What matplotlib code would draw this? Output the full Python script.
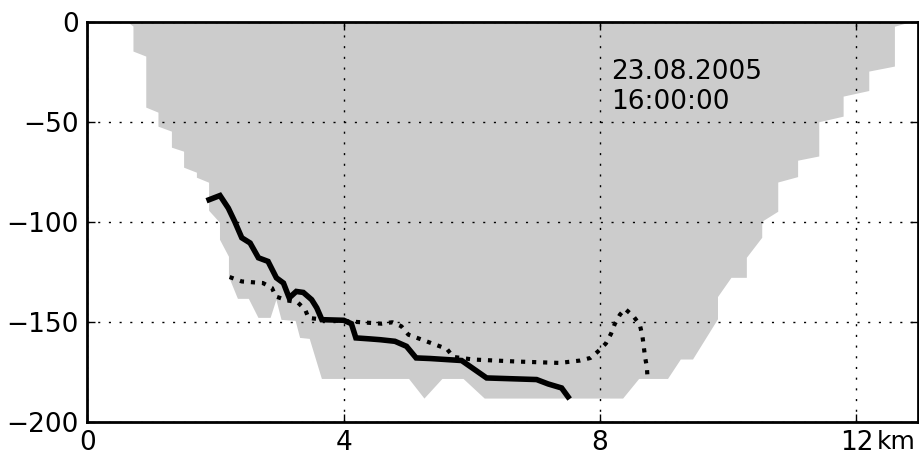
import numpy as np
import matplotlib
matplotlib.use('Agg')
import matplotlib.pyplot as plt

# bottom profile of the section (km, m), traced left bank -> bottom -> right bank
bank_km = [0.62, 0.72, 0.72, 0.92, 0.92, 1.11, 1.11, 1.32, 1.32, 1.51, 1.51,
           1.71, 1.71, 1.90, 1.90, 2.07, 2.07, 2.21, 2.21, 2.35, 2.52, 2.67,
           2.86, 2.95, 3.03, 3.25, 3.32, 3.47, 3.66, 5.02, 5.26, 5.54, 5.87,
           6.20, 8.36, 8.61, 9.06, 9.26, 9.45, 9.84, 9.84, 10.05, 10.29,
           10.29, 10.53, 10.53, 10.78, 10.78, 11.09, 11.09, 11.42, 11.42,
           11.80, 11.80, 12.20, 12.20, 12.60, 12.60, 12.89]
bank_depth = [0, -2.5, -15, -17.5, -43, -45.5, -52.5, -55, -63, -65, -73,
              -75.5, -78, -80.5, -94.5, -100.5, -109, -117.5, -127.5, -138.5,
              -138.5, -148, -148, -139, -149, -149.5, -158, -158.5, -178.5,
              -178.5, -188.3, -178.5, -178.5, -188.3, -188.3, -178.5, -178.5,
              -168.8, -168.8, -148.7, -137.6, -128, -128, -118, -108, -100,
              -95, -80.4, -77.7, -69.5, -67.4, -50.3, -47.5, -37.5, -34.7,
              -25, -22.5, -2.6, 0]

# solid line
solid_km = [1.90, 2.07, 2.20, 2.30, 2.41, 2.54, 2.67, 2.82, 2.95, 3.06, 3.15,
            3.26, 3.37, 3.50, 3.58, 3.66, 4.00, 4.12, 4.19, 4.41, 4.57, 4.80,
            4.98, 5.13, 5.35, 5.84, 6.23, 7.01, 7.19, 7.40, 7.50]
solid_depth = [-89, -86.9, -93.2, -99.9, -108, -110.6, -118, -119.8, -128,
               -130.6, -138, -134.8, -135.3, -138.9, -143, -148.9, -149.2,
               -150.9, -158, -158.5, -158.9, -159.7, -162.2, -168, -168.3,
               -169.3, -178, -178.8, -181, -183, -187.4]

# dotted line
dotted_km = [2.22, 2.41, 2.74, 2.88, 2.94, 3.11, 3.28, 3.40, 3.45, 3.68, 4.28,
             4.59, 4.76, 4.90, 5.01, 5.29, 5.61, 5.71, 6.02, 6.70, 7.37, 7.69,
             7.85, 7.97, 8.09, 8.17, 8.23, 8.31, 8.39, 8.52, 8.62, 8.66, 8.68,
             8.70, 8.73, 8.74]
dotted_depth = [-127.6, -129.8, -130.6, -133, -137.3, -139.2, -140.2, -143.9,
                -148, -148.9, -150.2, -150.9, -150.2, -152.2, -156.4, -159.7,
                -163.5, -167.5, -168.8, -169.8, -170.5, -169.3, -168, -164.7,
                -160.8, -156, -151, -146.4, -143.5, -147.2, -151.4, -156.9,
                -161.8, -167.2, -172.5, -177.7]

xticks = [0, 4, 8, 12]
xticklabels = ['0', '4', '8', '12']
yticks = [0, -50, -100, -150, -200]

fig = plt.figure(figsize=(9.2, 4.58), dpi=100)
ax = fig.add_axes([0.0949, 0.0786, 0.9029, 0.8744])

ax.fill(bank_km, bank_depth, color='#cccccc', lw=0, zorder=1)
ax.plot(solid_km, solid_depth, color='k', lw=4, zorder=4,
        solid_joinstyle='miter')
ax.plot(dotted_km, dotted_depth, color='k', lw=3, ls=':', zorder=4)

ax.text(8.18, -18.5, '23.08.2005\n16:00:00', fontsize=19, va='top', ha='left',
        zorder=5)

ax.set_xlim(0, 12.96)
ax.set_ylim(-200, 0)
ax.set_xticks(xticks)
ax.set_xticklabels(xticklabels)
ax.set_yticks(yticks)
# unit label next to the last x tick
ax.annotate('km', xy=(12.31, 0), xycoords=('data', 'axes fraction'),
            xytext=(0, -6), textcoords='offset points', va='top', ha='left',
            fontsize=18)

ax.grid(True, color='k', lw=1, ls=(0, (1.5, 6.2)), zorder=2)
ax.set_axisbelow(False)
ax.tick_params(direction='in', length=6, width=1, labelsize=19,
               top=True, right=True, pad=6)
for s in ax.spines.values():
    s.set_linewidth(2)
    s.set_zorder(6)

fig.savefig('out.png', dpi=100)
